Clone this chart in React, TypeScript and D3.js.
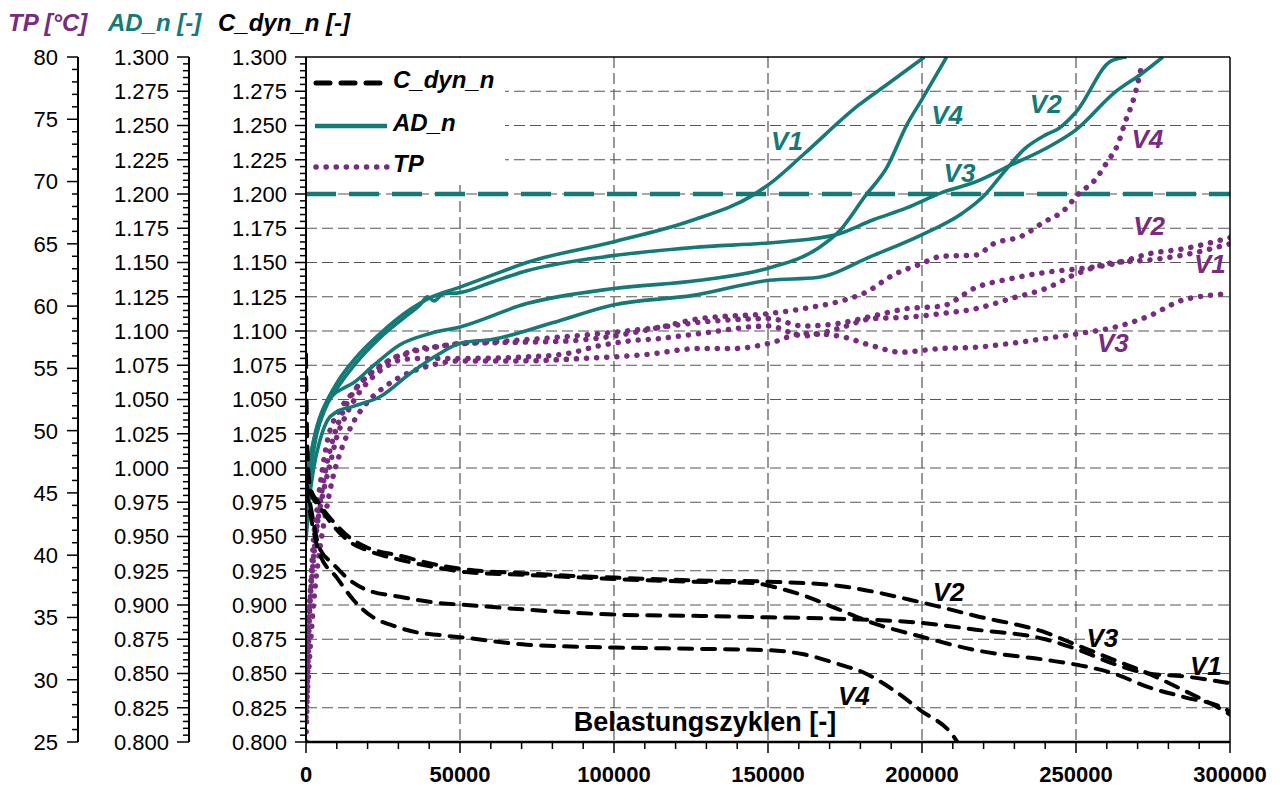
import React from 'react';
import * as d3 from 'd3';

type Pt = [number, number];

const cycleTicks = [0, 50000, 100000, 150000, 200000, 250000, 300000];
const normTicks = [0.8, 0.825, 0.85, 0.875, 0.9, 0.925, 0.95, 0.975, 1.0, 1.025, 1.05, 1.075, 1.1, 1.125, 1.15, 1.175, 1.2, 1.225, 1.25, 1.275, 1.3];
const tpTicks = [25, 30, 35, 40, 45, 50, 55, 60, 65, 70, 75, 80];
const adLimit = 1.2;

// C_dyn_n (black dashed)
const cV1: Pt[] = [[0, 0.99], [1500, 0.972], [4300, 0.942], [8800, 0.93], [14300, 0.918], [19800, 0.911], [30500, 0.906], [41000, 0.902], [52000, 0.9], [82500, 0.895], [100000, 0.893], [127900, 0.892], [150300, 0.891], [172700, 0.89], [199600, 0.887], [217500, 0.882], [240000, 0.875], [251100, 0.867], [262300, 0.857], [273500, 0.85], [284700, 0.848], [297000, 0.844], [300000, 0.843]];
const cV2: Pt[] = [[0, 1.083], [300, 1.03], [700, 1.0], [1500, 0.985], [4300, 0.974], [8800, 0.961], [14300, 0.949], [19800, 0.942], [30500, 0.936], [41000, 0.93], [52000, 0.926], [71700, 0.923], [100000, 0.92], [125700, 0.918], [150300, 0.917], [172700, 0.914], [199600, 0.902], [217500, 0.892], [240000, 0.88], [251100, 0.87], [262300, 0.86], [273500, 0.85], [284700, 0.838], [299300, 0.821], [300000, 0.82]];
const cV3: Pt[] = [[0, 1.0], [1500, 0.982], [4300, 0.972], [8800, 0.958], [14300, 0.946], [19800, 0.94], [30500, 0.933], [41000, 0.928], [52000, 0.924], [71700, 0.922], [100000, 0.919], [125700, 0.917], [145000, 0.916], [154000, 0.912], [161500, 0.907], [172700, 0.897], [183900, 0.887], [199600, 0.877], [217500, 0.867], [240000, 0.86], [251100, 0.856], [262300, 0.85], [273500, 0.84], [284700, 0.833], [299300, 0.823], [300000, 0.822]];
const cV4: Pt[] = [[0, 0.985], [1500, 0.965], [4300, 0.938], [10000, 0.92], [15300, 0.904], [21800, 0.891], [28200, 0.885], [36000, 0.88], [43500, 0.878], [52000, 0.876], [71700, 0.871], [100000, 0.869], [127900, 0.868], [150300, 0.867], [161500, 0.864], [172700, 0.857], [181700, 0.85], [190700, 0.838], [199600, 0.823], [210300, 0.804], [211500, 0.8]];

// AD_n (teal solid)
const adV1: Pt[] = [[0, 0.995], [1500, 1.01], [3500, 1.03], [6000, 1.045], [10000, 1.062], [16000, 1.08], [24000, 1.098], [34000, 1.116], [40000, 1.124], [50000, 1.132], [60700, 1.141], [71700, 1.15], [99700, 1.165], [125700, 1.181], [145000, 1.199], [152000, 1.21], [161600, 1.229], [179500, 1.265], [189300, 1.281], [200800, 1.3]];
const adV2: Pt[] = [[0, 0.947], [1000, 0.975], [2500, 1.0], [4500, 1.02], [7000, 1.035], [10000, 1.041], [15300, 1.045], [24000, 1.052], [33800, 1.069], [43000, 1.083], [50000, 1.091], [60700, 1.094], [80000, 1.106], [99700, 1.119], [125700, 1.126], [150300, 1.137], [166000, 1.139], [184000, 1.155], [199700, 1.17], [213100, 1.186], [219800, 1.198], [226600, 1.216], [233300, 1.233], [240000, 1.243], [244500, 1.248], [250100, 1.26], [261300, 1.297], [266400, 1.3]];
const adV3: Pt[] = [[0, 1.015], [1000, 1.005], [2500, 1.02], [5000, 1.04], [10000, 1.058], [16000, 1.076], [24000, 1.095], [32000, 1.11], [37000, 1.119], [39500, 1.125], [41500, 1.122], [44500, 1.127], [50000, 1.128], [60700, 1.136], [71700, 1.144], [99700, 1.155], [125700, 1.161], [154000, 1.165], [171700, 1.17], [184000, 1.181], [195200, 1.19], [206400, 1.201], [217600, 1.209], [228800, 1.221], [240000, 1.233], [250100, 1.247], [262500, 1.274], [271400, 1.288], [278200, 1.3]];
const adV4: Pt[] = [[0, 0.98], [1500, 1.0], [3500, 1.025], [6000, 1.042], [8300, 1.052], [12000, 1.058], [15300, 1.062], [22000, 1.075], [30500, 1.09], [40000, 1.098], [50000, 1.103], [71700, 1.12], [100000, 1.131], [127900, 1.137], [150300, 1.146], [166000, 1.16], [172800, 1.172], [181700, 1.199], [188500, 1.219], [195200, 1.251], [199700, 1.268], [208000, 1.3]];

// TP in °C (purple dotted)
const tpV1: Pt[] = [[0, 31], [1200, 36], [2500, 40], [4000, 43], [6000, 45.5], [8000, 47.5], [10000, 49.5], [12500, 51], [15500, 52.4], [19000, 53.6], [23000, 54.6], [27000, 55.3], [31000, 55.7], [38000, 55.8], [52000, 55.8], [70000, 55.9], [85000, 56.2], [95000, 56.8], [105000, 57.2], [115000, 57.4], [128000, 57.8], [150300, 58.4], [161600, 57.6], [172800, 58.2], [184000, 59.0], [195200, 59.1], [206400, 59.4], [217600, 59.8], [228800, 60.6], [240000, 61.4], [251200, 62.7], [262500, 63.5], [273700, 63.7], [284900, 64.1], [300000, 65.0]];
const tpV2: Pt[] = [[0, 29], [800, 34], [1800, 38], [3000, 41], [4500, 44], [6500, 47], [9000, 49.5], [12000, 51.5], [16000, 53.3], [21000, 54.6], [26000, 55.5], [31000, 56.1], [40000, 56.6], [50000, 57.0], [65000, 57.2], [82000, 57.5], [100000, 57.9], [115000, 58.3], [128000, 58.7], [150300, 59.0], [161600, 58.4], [172800, 58.6], [184000, 59.2], [195200, 59.8], [206400, 60.0], [217600, 61.5], [228800, 62.2], [240000, 62.7], [251200, 63.0], [262500, 63.4], [273700, 64.2], [284900, 64.6], [300000, 65.5]];
const tpV3: Pt[] = [[0, 27], [1500, 33], [3000, 37.5], [4500, 40.5], [6500, 43.5], [8500, 46], [11500, 48.5], [15000, 50.5], [20000, 52.3], [26000, 53.6], [33000, 54.6], [40000, 55.2], [50000, 55.6], [70000, 55.6], [90000, 55.8], [110000, 56.1], [128000, 56.6], [139100, 56.6], [150300, 57.0], [161600, 57.8], [172800, 57.6], [184000, 56.8], [193000, 56.3], [206400, 56.6], [217600, 56.7], [228800, 57.0], [240000, 57.4], [251200, 57.8], [262500, 58.3], [273700, 59.2], [284900, 60.5], [300000, 61.0]];
const tpV4: Pt[] = [[0, 25], [600, 31], [1200, 36], [1800, 38.8], [2500, 41.5], [3500, 43.5], [4500, 45.5], [5500, 47.2], [7200, 49.5], [9000, 50.8], [11000, 51.7], [15000, 53.0], [19500, 54.3], [24000, 55.1], [28000, 55.8], [33000, 56.2], [37000, 56.6], [41000, 56.7], [47000, 56.9], [52000, 57.0], [70000, 57.1], [85000, 57.2], [100000, 57.6], [115000, 58.3], [128000, 59.0], [150300, 59.4], [161600, 59.8], [175000, 60.5], [181700, 61.1], [190700, 62.5], [199700, 63.4], [206400, 64.0], [217600, 64.1], [223200, 65.0], [232200, 65.6], [240000, 66.8], [245700, 67.6], [251200, 69.1], [255700, 70.0], [260200, 71.6], [263600, 73.0], [266000, 74.8], [268800, 76.7], [271500, 79.5]];

// series labels: [text, cycles, normalised value]
const adLabels: [string, number, number][] = [['V1', 151000, 1.232], ['V4', 203000, 1.251], ['V2', 235000, 1.259], ['V3', 207000, 1.209]];
const tpLabels: [string, number, number][] = [['V4', 268000, 1.2336], ['V2', 268600, 1.17], ['V1', 288300, 1.1423], ['V3', 256800, 1.0844]];
const cLabels: [string, number, number][] = [['V2', 203500, 0.9029], ['V3', 253400, 0.8697], ['V1', 287000, 0.8489], ['V4', 172700, 0.8267]];

const TEAL = '#137a76';
const PURPLE = '#782c80';
const FONT = '"Liberation Sans", Arial, sans-serif';

const W = 1283;
const H = 787;

export default function App() {
    const x = d3.scaleLinear().domain([0, 300000]).range([306, 1230]);
    const y = d3.scaleLinear().domain([0.8, 1.3]).range([742, 57]);
    const yTp = d3.scaleLinear().domain([25, 80]).range([742, 57]);

    const normLine = d3.line<Pt>().x(d => x(d[0])).y(d => y(d[1])).curve(d3.curveMonotoneX);
    const tpLine = d3.line<Pt>().x(d => x(d[0])).y(d => yTp(d[1])).curve(d3.curveMonotoneX);

    const fmt = d3.format('.3f');
    const normMinor = d3.range(0, 101).map(i => 0.8 + i * 0.005);
    const tpMinor = d3.range(25, 81);
    const xMinor = d3.range(0, 300001, 10000);

    const [x0, x1] = x.range();
    const [yB, yT] = y.range();

    const cStyle = { fill: 'none', stroke: '#000', strokeWidth: 4, strokeDasharray: '13,10', strokeLinecap: 'round' as const };
    const adStyle = { fill: 'none', stroke: TEAL, strokeWidth: 3.6 };
    const tpStyle = { fill: 'none', stroke: PURPLE, strokeWidth: 5.5, strokeDasharray: '0.1,10', strokeLinecap: 'round' as const };

    const labelStyle = { fontFamily: FONT, fontSize: 26, fontWeight: 'bold' as const, fontStyle: 'italic' as const };

    return (
        <svg width={W} height={H} style={{ position: 'absolute', left: 0, top: 0, background: '#fff' }}>
            <defs>
                <clipPath id="plot">
                    <rect x={x0} y={yT} width={x1 - x0} height={yB - yT} />
                </clipPath>
            </defs>

            {/* grid */}
            {normTicks.slice(1, -1).map(v => (
                <line key={'h' + v} x1={x0} x2={x1} y1={y(v)} y2={y(v)} stroke="#555" strokeWidth={1.2} strokeDasharray="11,5" />
            ))}
            {cycleTicks.slice(1, -1).map(c => (
                <line key={'v' + c} x1={x(c)} x2={x(c)} y1={yT} y2={yB} stroke="#555" strokeWidth={1.2} strokeDasharray="11,5" />
            ))}

            {/* legend background */}
            <rect x={x0 + 1} y={yT + 1} width={198} height={127} fill="#fff" />

            {/* AD_n limit */}
            <line x1={x0} x2={x1} y1={y(adLimit)} y2={y(adLimit)} stroke={TEAL} strokeWidth={4.5} strokeDasharray="30,13" />

            <g clipPath="url(#plot)">
                {[tpV1, tpV2, tpV3, tpV4].map((s, i) => <path key={'tp' + i} d={tpLine(s) || ''} style={tpStyle} />)}
                {[adV1, adV2, adV3, adV4].map((s, i) => <path key={'ad' + i} d={normLine(s) || ''} style={adStyle} />)}
                {[cV1, cV2, cV3, cV4].map((s, i) => <path key={'c' + i} d={normLine(s) || ''} style={cStyle} />)}
            </g>

            {/* frame */}
            <line x1={x0} x2={x1} y1={yT} y2={yT} stroke="#000" strokeWidth={1.5} />
            <line x1={x1} x2={x1} y1={yT} y2={yB} stroke="#000" strokeWidth={1.5} />

            {/* C_dyn_n axis */}
            <line x1={x0} x2={x0} y1={yT} y2={yB} stroke="#000" strokeWidth={2} />
            {normMinor.map((v, i) => (
                <line key={'cm' + i} x1={i % 5 === 0 ? x0 - 11 : x0 - 6} x2={x0} y1={y(v)} y2={y(v)} stroke="#000" strokeWidth={1.5} />
            ))}
            {normTicks.map(v => (
                <text key={'ct' + v} x={287} y={y(v)} dy="0.36em" textAnchor="end" fontFamily={FONT} fontSize={22}>{fmt(v)}</text>
            ))}

            {/* AD_n axis */}
            <line x1={189} x2={189} y1={yT} y2={yB} stroke="#000" strokeWidth={2} />
            {normMinor.map((v, i) => (
                <line key={'am' + i} x1={i % 5 === 0 ? 177 : 183} x2={189} y1={y(v)} y2={y(v)} stroke="#000" strokeWidth={1.5} />
            ))}
            {normTicks.map(v => (
                <text key={'at' + v} x={169} y={y(v)} dy="0.36em" textAnchor="end" fontFamily={FONT} fontSize={22}>{fmt(v)}</text>
            ))}

            {/* TP axis */}
            <line x1={78} x2={78} y1={yT} y2={yB} stroke="#000" strokeWidth={2} />
            {tpMinor.map(v => (
                <line key={'tm' + v} x1={v % 5 === 0 ? 67 : 72} x2={78} y1={yTp(v)} y2={yTp(v)} stroke="#000" strokeWidth={1.5} />
            ))}
            {tpTicks.map(v => (
                <text key={'tt' + v} x={58} y={yTp(v)} dy="0.36em" textAnchor="end" fontFamily={FONT} fontSize={22}>{v}</text>
            ))}

            {/* x axis */}
            <line x1={x0} x2={x1} y1={yB} y2={yB} stroke="#000" strokeWidth={2.5} />
            {xMinor.map(c => (
                <line key={'xm' + c} x1={x(c)} x2={x(c)} y1={yB} y2={c % 50000 === 0 ? yB + 11 : yB + 7} stroke="#000" strokeWidth={1.5} />
            ))}
            {cycleTicks.map(c => (
                <text key={'xt' + c} x={x(c)} y={782} textAnchor="middle" fontFamily={FONT} fontSize={22} fontWeight="bold">{c}</text>
            ))}
            <text x={705} y={731} textAnchor="middle" fontFamily={FONT} fontSize={27} fontWeight="bold">Belastungszyklen [-]</text>

            {/* axis titles */}
            <text x={8} y={31} fontFamily={FONT} fontSize={24} fontWeight="bold" fontStyle="italic" fill={PURPLE}>TP [°C]</text>
            <text x={108} y={31} fontFamily={FONT} fontSize={24} fontWeight="bold" fontStyle="italic" fill={TEAL}>AD_n [-]</text>
            <text x={218} y={31} fontFamily={FONT} fontSize={24} fontWeight="bold" fontStyle="italic" fill="#000">C_dyn_n [-]</text>

            {/* legend */}
            <line x1={316} x2={386} y1={83} y2={83} style={{ ...cStyle, strokeWidth: 5, strokeDasharray: '14,11' }} />
            <text x={393} y={88} fontFamily={FONT} fontSize={24} fontWeight="bold" fontStyle="italic">C_dyn_n</text>
            <line x1={315} x2={387} y1={126} y2={126} style={{ ...adStyle, strokeWidth: 4.5 }} />
            <text x={393} y={131} fontFamily={FONT} fontSize={24} fontWeight="bold" fontStyle="italic">AD_n</text>
            <line x1={316} x2={388} y1={167} y2={167} style={tpStyle} />
            <text x={393} y={172} fontFamily={FONT} fontSize={24} fontWeight="bold" fontStyle="italic">TP</text>

            {/* series labels */}
            {adLabels.map(([t, c, v], i) => <text key={'al' + i} x={x(c)} y={y(v)} fill={TEAL} style={labelStyle}>{t}</text>)}
            {tpLabels.map(([t, c, v], i) => <text key={'pl' + i} x={x(c)} y={y(v)} fill={PURPLE} style={labelStyle}>{t}</text>)}
            {cLabels.map(([t, c, v], i) => <text key={'bl' + i} x={x(c)} y={y(v)} fill="#000" style={labelStyle}>{t}</text>)}
        </svg>
    );
}
